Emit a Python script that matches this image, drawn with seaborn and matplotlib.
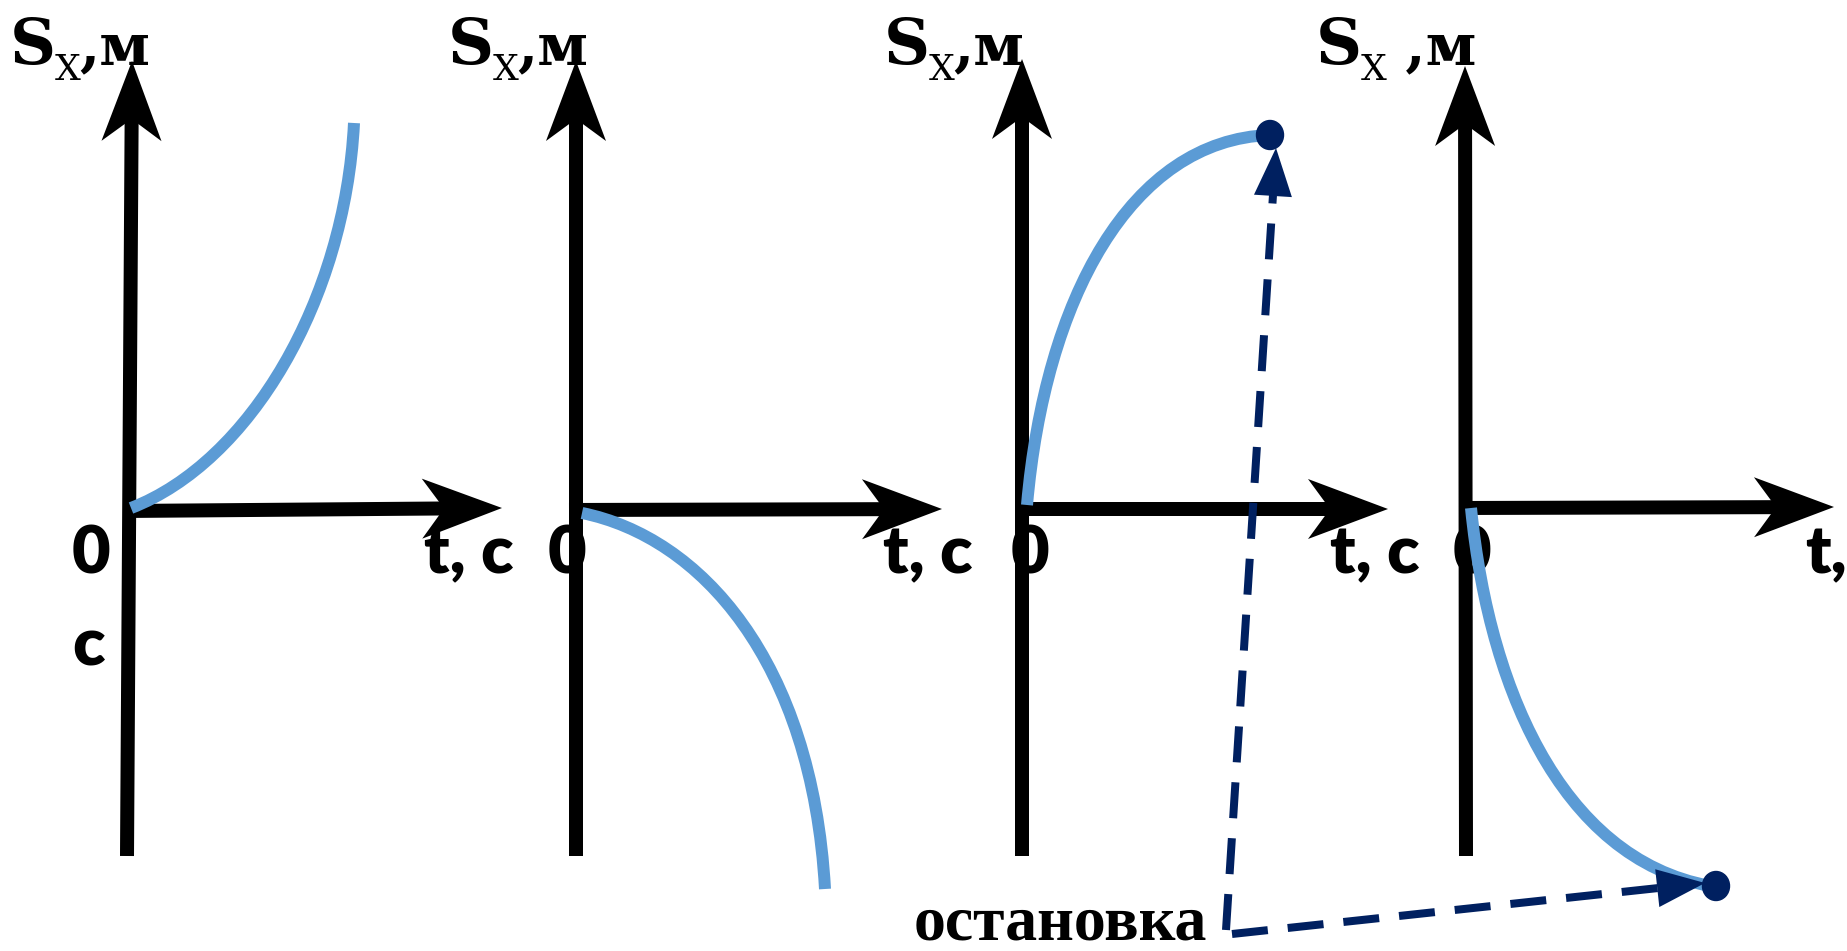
import matplotlib
matplotlib.use("Agg")
import matplotlib.pyplot as plt
from matplotlib.path import Path
from matplotlib.patches import PathPatch, Polygon, Ellipse
import numpy as np
import seaborn as sns

W, H = 1847, 951

# ---- data (pixel coordinates) ----
origin_x = [131, 576, 1022, 1467]
origin_y = [511, 510, 509, 508]
vbottom_x = [127, 576, 1022, 1466]
vbottom_y = [856, 856, 856, 856]
vtip_x = [132, 576, 1022, 1465]
vtip_y = [61, 61, 59, 66]
htip_x = [502, 942, 1388, 1834]
htip_y = [508, 509, 509, 507]

curve1_x = [131, 250, 345, 354]
curve1_y = [508, 462, 300, 123]
curve2_x = [582, 700, 812, 825]
curve2_y = [513, 537, 660, 889]
curve3_x = [1027, 1045, 1130, 1270]
curve3_y = [505, 300, 140, 135]
curve4_x = [1471, 1490, 1570, 1724]
curve4_y = [508, 700, 870, 888]

dot_x = [1270, 1716]
dot_y = [135, 886]

stop_start_x = [1226, 1232]
stop_start_y = [930, 934]
stop_tip_x = [1276, 1705]
stop_tip_y = [148, 883]

ylabel_x = [10, 448, 884, 1316]
ylabel_sep = [",м", ",м", ",м", " ,м"]
zero_x = [91, 567, 1030, 1472]
tlabel_text = ["t, c", "t, c", "t, c", "t,"]
tlabel_x = [424, 883, 1330, 1805]
stop_label = "остановка"

# ---- style ----
sns.set_theme(style="white")
plt.rcParams["lines.solid_capstyle"] = "butt"
plt.rcParams["lines.dash_capstyle"] = "butt"
plt.rcParams["text.color"] = "black"
SERIF = ["DejaVu Serif"]
SANS = ["Lato", "DejaVu Sans"]
BLUE = "#5B9BD5"
NAVY = "#002060"
PX = 72 / 100.0

fig = plt.figure(figsize=(W / 100, H / 100), dpi=100)
ax = fig.add_axes([0, 0, 1, 1])


def notched_head(tx, ty, fx, fy, L=80, w=30, d=22, color="black"):
    u = np.array([tx - fx, ty - fy], float)
    u /= np.hypot(*u)
    n = np.array([-u[1], u[0]])
    t = np.array([tx, ty], float)
    pts = [t, t - L * u + w * n, t - (L - d) * u, t - L * u - w * n]
    ax.add_patch(Polygon(pts, closed=True, color=color, lw=0, zorder=5))
    return t - (L - d) * u


def tri_head(tx, ty, fx, fy, L=48, w=19, color=NAVY):
    u = np.array([tx - fx, ty - fy], float)
    u /= np.hypot(*u)
    n = np.array([-u[1], u[0]])
    t = np.array([tx, ty], float)
    pts = [t, t - L * u + w * n, t - L * u - w * n]
    ax.add_patch(Polygon(pts, closed=True, color=color, lw=0, zorder=6))
    return t - (L - 2) * u


AX_W = 14
# axes of the four panels
for i in range(4):
    end_v = notched_head(vtip_x[i], vtip_y[i], vbottom_x[i], vbottom_y[i])
    sns.lineplot(x=[vbottom_x[i], end_v[0]], y=[vbottom_y[i], end_v[1]], sort=False,
                 estimator=None, color="black", linewidth=AX_W * PX, ax=ax, legend=False)
    end_h = notched_head(htip_x[i], htip_y[i], origin_x[i], origin_y[i])
    sns.lineplot(x=[origin_x[i] - AX_W / 2, end_h[0]], y=[origin_y[i], end_h[1]], sort=False,
                 estimator=None, color="black", linewidth=AX_W * PX, ax=ax, legend=False)

# curves (cubic Beziers)
for cx, cy in [(curve1_x, curve1_y), (curve2_x, curve2_y), (curve3_x, curve3_y), (curve4_x, curve4_y)]:
    path = Path(list(zip(cx, cy)), [Path.MOVETO, Path.CURVE4, Path.CURVE4, Path.CURVE4])
    ax.add_patch(PathPatch(path, fill=False, edgecolor=BLUE, lw=12 * PX, capstyle="butt", zorder=4))

# dashed arrows to stop points
DW = 8
for i in range(2):
    end = tri_head(stop_tip_x[i], stop_tip_y[i], stop_start_x[i], stop_start_y[i])
    sns.lineplot(x=[stop_start_x[i], end[0]], y=[stop_start_y[i], end[1]], sort=False,
                 estimator=None, color=NAVY, linewidth=DW * PX, ax=ax, legend=False,
                 dashes=False)
    ax.lines[-1].set_dashes((36 / DW, 20 / DW))
    ax.lines[-1].set_zorder(6)

# stop dots
for x, y in zip(dot_x, dot_y):
    ax.add_patch(Ellipse((x, y), 27, 29, color=NAVY, zorder=7))

# labels
for i in range(4):
    x0 = ylabel_x[i]
    ax.text(x0, 64, "S", fontsize=46, fontweight="bold", family=SERIF, va="baseline", ha="left",
            color="black")
    ax.text(x0 + 45, 80, "X", fontsize=26, family=SERIF, va="baseline", ha="left", color="black")
    ax.text(x0 + 69, 64, ylabel_sep[i], fontsize=42, fontweight="bold", family=SERIF,
            va="baseline", ha="left", color="black")
    ax.text(zero_x[i], 573, "0", fontsize=48, fontweight="heavy", family=SANS, va="baseline",
            ha="center", color="black")
    ax.text(tlabel_x[i], 573, tlabel_text[i], fontsize=48, fontweight="heavy", family=SANS,
            va="baseline", ha="left", color="black")

ax.text(88, 666, "c", fontsize=48, fontweight="heavy", family=SANS, va="baseline", ha="center",
        color="black")
ax.text(914, 940, stop_label, fontsize=46, fontweight="bold", family=["Liberation Serif"],
        va="baseline", ha="left", color="black")

ax.set_xlim(0, W)
ax.set_ylim(H, 0)
ax.axis("off")
fig.savefig("out.png", dpi=100, facecolor="white")
